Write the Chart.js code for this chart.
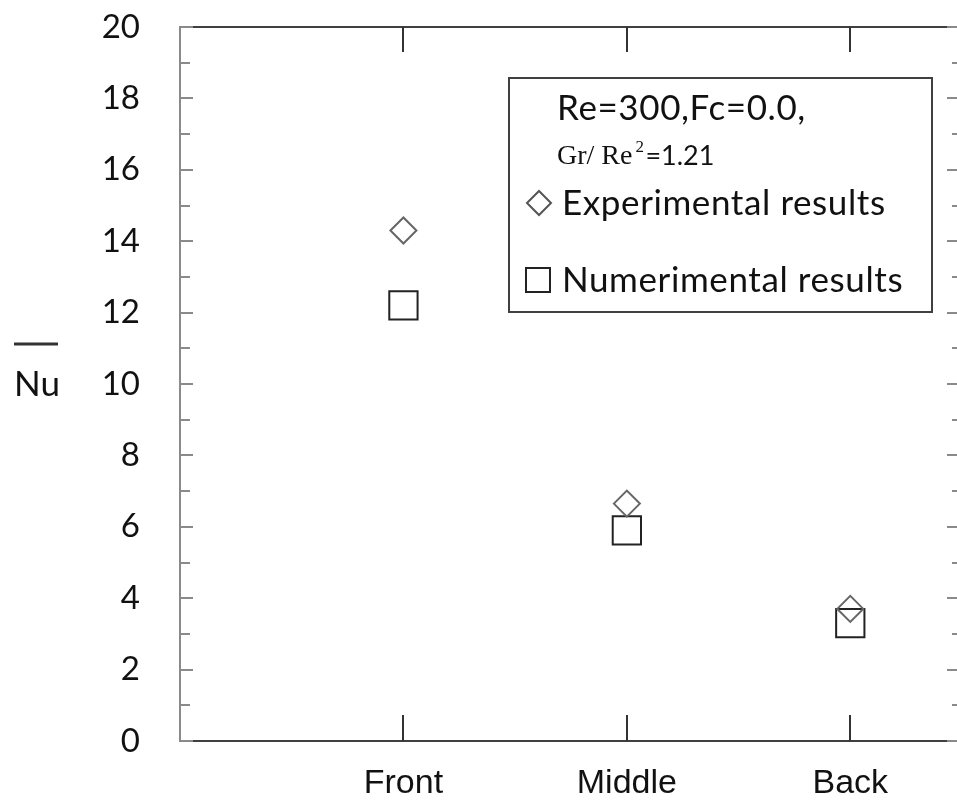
<!DOCTYPE html>
<html>
<head>
<meta charset="utf-8">
<script src="https://cdn.jsdelivr.net/npm/chart.js@4.4.1/dist/chart.umd.min.js"></script>
<style>
body{margin:0;background:#fff;overflow:hidden;}
#caixa{position:relative;width:962px;height:812px;}
</style>
</head>
<body>
<div id="caixa"><canvas id="grafico"></canvas></div>
<script>
const categorias = ["Front", "Middle", "Back"];
const experimental = [14.3, 6.65, 3.7];
const numerico = [12.2, 5.9, 3.3];
const ticksY = [0, 2, 4, 6, 8, 10, 12, 14, 16, 18, 20];

const nomeExp = "Experimental results";
const nomeNum = "Numerimental results";
const linha1 = "Re=300,Fc=0.0,";

function pontos(valores){
return valores.map((v, i) => ({x: i + 1, y: v}));
}

function semPadding(s){
s.paddingTop = 0;
s.paddingBottom = 0;
s.paddingLeft = 0;
s.paddingRight = 0;
}

// moldura, ticks internos, legenda e titulo do eixo
const moldura = {
id: "moldura",
afterDraw(chart){
const ctx = chart.ctx;
const a = chart.chartArea;
const x = chart.scales.x;
const y = chart.scales.y;
ctx.save();

// linha de cima
ctx.strokeStyle = "#404040";
ctx.lineWidth = 2;
ctx.beginPath();
ctx.moveTo(a.left + 13, a.top);
ctx.lineTo(a.right - 15, a.top);
ctx.stroke();

// ticks do eixo y (esquerda e direita)
for(let v = y.min; v <= y.max; v++){
const py = Math.round(y.getPixelForValue(v));
const maior = v % 2 === 0;
ctx.strokeStyle = "#8a8a8a";
ctx.beginPath();
ctx.moveTo(a.left, py);
ctx.lineTo(a.left + (maior ? 13 : 10), py);
ctx.moveTo(a.right - 5, py);
ctx.lineTo(a.right - (maior ? 15 : 10), py);
ctx.stroke();
}

// ticks de categoria em cima e embaixo
ctx.strokeStyle = "#333";
categorias.forEach((c, i) => {
const px = Math.round(x.getPixelForValue(i + 1));
ctx.beginPath();
ctx.moveTo(px, a.top);
ctx.lineTo(px, a.top + 25);
ctx.moveTo(px, a.bottom);
ctx.lineTo(px, a.bottom - 26);
ctx.stroke();
});

// titulo Nu com barra
ctx.fillStyle = "#111";
ctx.font = "35px Lato";
ctx.textBaseline = "alphabetic";
ctx.textAlign = "left";
ctx.fillText("Nu", 14, 396);
ctx.strokeStyle = "#333";
ctx.lineWidth = 3;
ctx.beginPath();
ctx.moveTo(14, 344);
ctx.lineTo(58, 344);
ctx.stroke();

// legenda
ctx.lineWidth = 2;
ctx.strokeStyle = "#404040";
ctx.strokeRect(509, 78, 423, 234);

ctx.fillStyle = "#111";
ctx.font = "35px Lato";
ctx.letterSpacing = "0.6px";
ctx.fillText(linha1, 557, 120);
ctx.fillText(nomeExp, 562, 215);
ctx.fillText(nomeNum, 562, 292);
ctx.letterSpacing = "0px";

ctx.font = "28px 'Liberation Serif'";
ctx.fillText("Gr/ Re", 557, 164);
let w = ctx.measureText("Gr/ Re").width;
ctx.font = "17px 'Liberation Serif'";
ctx.fillText("2", 557 + w + 3, 152);
ctx.font = "27px Lato";
ctx.fillText("=1.21", 557 + w + 13, 165);

ctx.fillStyle = "rgba(0,0,0,0)";
ctx.strokeStyle = "#555";
ctx.lineWidth = 2;
Chart.helpers.drawPoint(ctx, {pointStyle: "rectRot", radius: 12, borderWidth: 2}, 539, 203);

ctx.strokeStyle = "#222";
ctx.strokeRect(526, 268, 24, 24);

ctx.restore();
}
};

new Chart(document.getElementById("grafico"), {
type: "scatter",
data: {
datasets: [{
label: nomeExp,
data: pontos(experimental),
pointStyle: "rectRot",
pointRadius: 13,
pointHoverRadius: 13,
borderColor: "#666",
borderWidth: 2,
backgroundColor: "rgba(0,0,0,0)"
},{
label: nomeNum,
data: pontos(numerico),
pointStyle: "rect",
pointRadius: 20,
pointHoverRadius: 20,
borderColor: "#222",
borderWidth: 2,
backgroundColor: "rgba(0,0,0,0)"
}]
},
options: {
responsive: true,
maintainAspectRatio: false,
animation: false,
layout: {autoPadding: false, padding: {top: 27, left: 0, right: 0, bottom: 0}},
plugins: {
legend: {display: false},
tooltip: {enabled: false}
},
scales: {
x: {
type: "linear",
min: 0,
max: 3.5,
afterBuildTicks: s => { s.ticks = categorias.map((c, i) => ({value: i + 1})); },
afterFit: s => { s.height = 71; semPadding(s); },
grid: {display: false, drawTicks: false},
border: {display: true, color: "#404040", width: 2},
ticks: {
callback: v => categorias[v - 1] || "",
autoSkip: false,
maxRotation: 0,
padding: 22,
color: "#111",
font: {family: "'Liberation Sans'", size: 34}
}
},
y: {
min: 0,
max: 20,
afterBuildTicks: s => { s.ticks = ticksY.map(v => ({value: v})); },
afterFit: s => { s.width = 180; semPadding(s); },
grid: {display: false, drawTicks: false},
border: {display: true, color: "#8a8a8a", width: 2},
ticks: {
padding: 40,
color: "#111",
font: {family: "Lato", size: 33}
}
}
}
},
plugins: [moldura]
});
</script>
</body>
</html>
